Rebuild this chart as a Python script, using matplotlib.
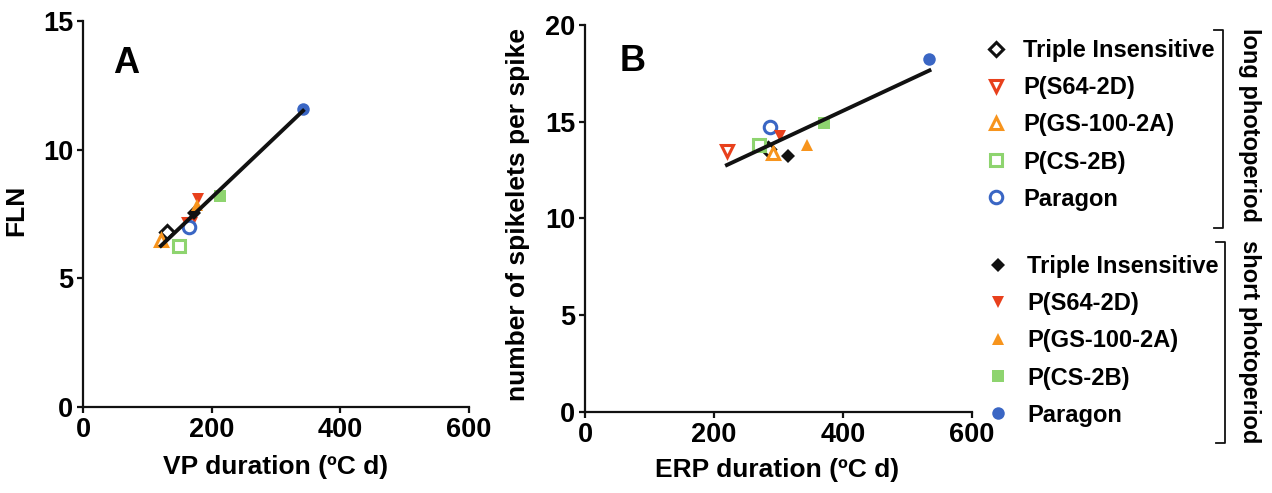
import numpy as np
import matplotlib
matplotlib.use('Agg')
import matplotlib.pyplot as plt
from matplotlib.lines import Line2D

plt.rcParams['font.family'] = ['Liberation Sans', 'DejaVu Sans']
plt.rcParams['font.weight'] = 'bold'

genotypes = ['Triple Insensitive', 'P(S64-2D)', 'P(GS-100-2A)', 'P(CS-2B)', 'Paragon']
colors = ['#111111', '#E8401C', '#F7941D', '#8ED46F', '#3A66C4']
markers = ['D', 'v', '^', 's', 'o']

# panel A: VP duration vs final leaf number
vp_long = [131, 165, 121, 149, 164]
fln_long = [6.8, 7.1, 6.5, 6.27, 7.0]
vp_short = [172, 178, 177, 213, 342]
fln_short = [7.53, 8.1, 7.85, 8.2, 11.58]

# panel B: ERP duration vs spikelets per spike
erp_long = [283, 220, 291, 269, 287]
spk_long = [13.57, 13.5, 13.4, 13.8, 14.71]
erp_short = [314, 302, 344, 370, 534]
spk_short = [13.23, 14.26, 13.8, 14.92, 18.24]

fig = plt.figure(figsize=(12.72, 4.93), dpi=100)
axA = fig.add_axes([0.0653, 0.1744, 0.3034, 0.7830])
axB = fig.add_axes([0.4599, 0.1643, 0.3043, 0.7850])

open_sizes = [7, 9, 9, 9, 9]
fill_sizes = [7.5, 9, 9, 8, 9]


def panel(ax, xl, yl, xs, ys, ymax, ystep):
    hl, hs = [], []
    for i in range(5):
        h, = ax.plot(xl[i], yl[i], linestyle='none', marker=markers[i], ms=open_sizes[i],
                     mfc='white', mec=colors[i], mew=2.2, zorder=3)
        hl.append(h)
    for i in range(5):
        h, = ax.plot(xs[i], ys[i], linestyle='none', marker=markers[i], ms=fill_sizes[i],
                     mfc=colors[i], mec=colors[i], mew=0, zorder=3)
        hs.append(h)
    allx = np.array(xl + xs, dtype=float)
    ally = np.array(yl + ys, dtype=float)
    k, b = np.polyfit(allx, ally, 1)
    xx = np.array([allx.min(), allx.max()])
    ax.plot(xx, k * xx + b, color='#111111', lw=2.8, zorder=4)
    ax.set_xlim(0, 600)
    ax.set_ylim(0, ymax)
    ax.set_xticks([0, 200, 400, 600])
    ax.set_yticks(np.arange(0, ymax + 1, ystep))
    for s in ['top', 'right']:
        ax.spines[s].set_visible(False)
    for s in ['left', 'bottom']:
        ax.spines[s].set_linewidth(1.6)
        ax.spines[s].set_color('#111111')
    ax.tick_params(labelsize=19.5, width=1.6, length=4, color='#111111', pad=3)
    for t in ax.get_xticklabels() + ax.get_yticklabels():
        t.set_fontweight('bold')
    return hl, hs


panel(axA, vp_long, fln_long, vp_short, fln_short, 15, 5)
hl, hs = panel(axB, erp_long, spk_long, erp_short, spk_short, 20, 5)

axA.set_xlabel('VP duration (ºC d)', fontsize=19, fontweight='bold')
axA.set_ylabel('FLN', fontsize=19, fontweight='bold')
axB.set_xlabel('ERP duration (ºC d)', fontsize=19, fontweight='bold')
axB.set_ylabel('number of spikelets per spike', fontsize=19, fontweight='bold')
axA.xaxis.set_label_coords(0.5, -0.125)
axB.xaxis.set_label_coords(0.496, -0.118)
axA.yaxis.set_label_coords(-0.142, 0.51)
axB.yaxis.set_label_coords(-0.142, 0.51)

axA.text(0.078, 0.865, 'A', transform=axA.transAxes, fontsize=26, fontweight='bold')
axB.text(0.09, 0.88, 'B', transform=axB.transAxes, fontsize=26, fontweight='bold')

legkw = dict(frameon=False, prop={'weight': 'bold', 'size': 17},
             labelspacing=0.6, handlelength=1.0, borderaxespad=0,
             borderpad=0, loc='upper left')
fig.legend(hl, genotypes, bbox_to_anchor=(984 / 1272, 1 - 39 / 493), handletextpad=0.65, **legkw)
fig.legend(hs, genotypes, bbox_to_anchor=(986 / 1272, 1 - 255 / 493), handletextpad=0.74, **legkw)


# brackets
def bracket(x, y0, y1):
    xt = x - 9 / 1272
    fig.add_artist(Line2D([xt, x, x, xt], [1 - y0 / 493, 1 - y0 / 493, 1 - y1 / 493, 1 - y1 / 493],
                          transform=fig.transFigure, color='#111111', lw=1.3))


bracket(1223 / 1272, 30, 228)
bracket(1225 / 1272, 242, 443)
fig.text(1249 / 1272, 1 - 125 / 493, 'long photoperiod', rotation=270, ha='center', va='center',
         fontsize=17, fontweight='bold')
fig.text(1249 / 1272, 1 - 342 / 493, 'short photoperiod', rotation=270, ha='center', va='center',
         fontsize=17, fontweight='bold')

fig.savefig('out.png', dpi=100)
